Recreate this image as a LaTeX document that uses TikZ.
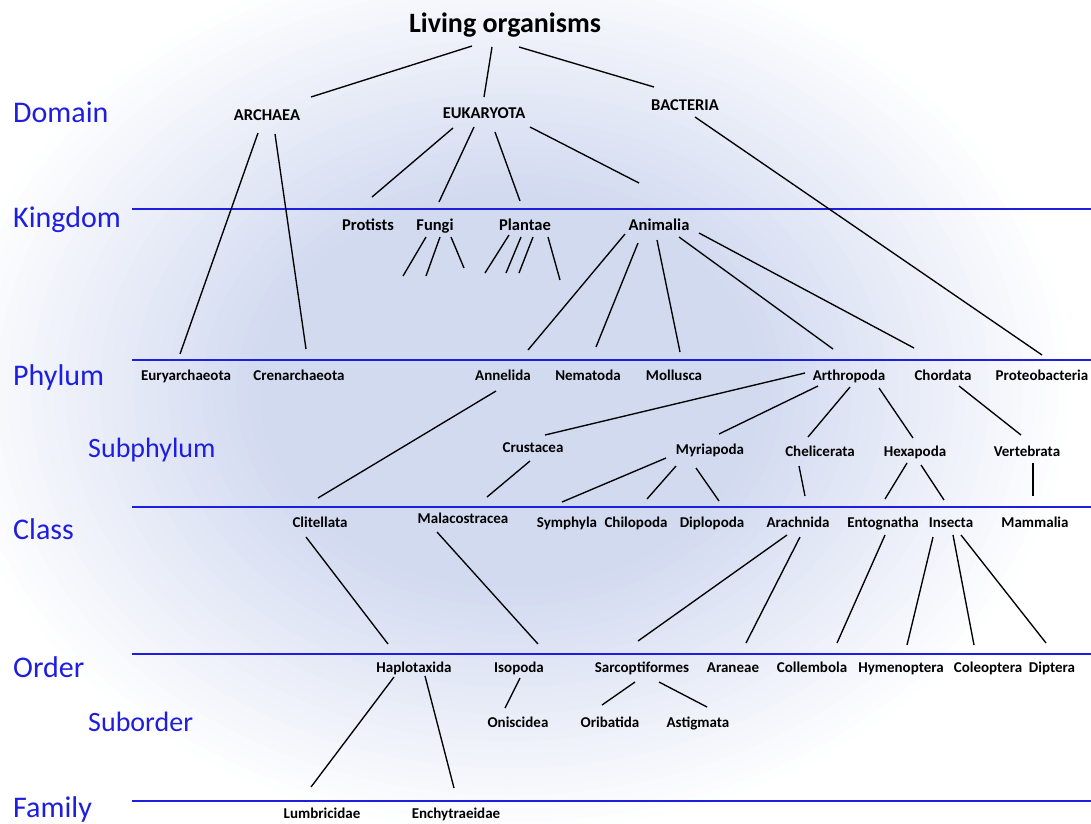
\documentclass[tikz,border=0pt]{standalone}
\usepackage{fontspec}
\setmainfont{Carlito}
\usetikzlibrary{calc}
\definecolor{rankblue}{RGB}{30,30,225}
\definecolor{bgc}{RGB}{210,218,240}
\tikzset{
  lbl/.style={font=\bfseries\fontsize{15}{18}\selectfont, inner sep=0pt, text height=9.7pt, text depth=0pt},
  lblb/.style={font=\bfseries\fontsize{16.5}{19}\selectfont, inner sep=0pt, text height=10.6pt, text depth=0pt},
  toplbl/.style={font=\bfseries\fontsize{28}{31}\selectfont, inner sep=0pt, text height=18pt, text depth=0pt},
  rank/.style={font=\fontsize{30}{34}\selectfont, text=rankblue, inner sep=0pt, anchor=west, text height=19.3pt, text depth=0pt},
  subrank/.style={font=\fontsize{28}{31}\selectfont, text=rankblue, inner sep=0pt, anchor=west, text height=18pt, text depth=0pt},
  conn/.style={draw=black, line width=1.35pt},
  rankline/.style={draw=rankblue, line width=2.2pt}
}
\newcommand\cn[4]{\draw[conn] ($(#1)+(#2)$) -- ($(#3)+(#4)$);}
\begin{document}
\begin{tikzpicture}[x=1pt,y=-1pt]
\useasboundingbox (0,0) rectangle (1091,823);
\fill[white] (0,0) rectangle (1091,823);
\begin{scope}
\clip (0,0) rectangle (1091,823);
\foreach \i in {0,...,50}{
  \pgfmathsetmacro\rr{1-\i/50}
  \pgfmathsetmacro\pp{min(100,3.6*\i)}
  \fill[bgc!\pp!white] (510,390) ellipse ({570*\rr} and {450*\rr});
}
\end{scope}

% rank lines
\draw[rankline] (132,209) -- (1091,209);
\draw[rankline] (132,360) -- (1091,360);
\draw[rankline] (132,507) -- (1091,507);
\draw[rankline] (132,654) -- (1091,654);
\draw[rankline] (132,801) -- (1091,801);

% rank labels
\node[rank] (rdomain) at (13,113) {Domain};
\node[rank] (rkingdom) at (13,218) {Kingdom};
\node[rank] (rphylum) at (13,376) {Phylum};
\node[subrank] (rsubphylum) at (88,448) {Subphylum};
\node[rank] (rclass) at (13,530) {Class};
\node[rank] (rorder) at (13,668) {Order};
\node[subrank] (rsuborder) at (88,722) {Suborder};
\node[rank] (rfamily) at (13,808) {Family};

% taxa
\node[toplbl] (living) at (505,23) {Living organisms};
\node[lblb] (archaea) at (267,115) {ARCHAEA};
\node[lblb] (eukaryota) at (484,113) {EUKARYOTA};
\node[lblb] (bacteria) at (685,105) {BACTERIA};
\node[lblb] (protists) at (368,225) {Protists};
\node[lblb] (fungi) at (435,225) {Fungi};
\node[lblb] (plantae) at (525,225) {Plantae};
\node[lblb] (animalia) at (659,225) {Animalia};
\node[lbl] (eury) at (186,376) {Euryarchaeota};
\node[lbl] (cren) at (299,376) {Crenarchaeota};
\node[lbl] (annelida) at (503,376) {Annelida};
\node[lbl] (nematoda) at (588,376) {Nematoda};
\node[lbl] (mollusca) at (674,376) {Mollusca};
\node[lbl] (arthropoda) at (849,376) {Arthropoda};
\node[lbl] (chordata) at (943,376) {Chordata};
\node[lbl] (proteo) at (1042,376) {Proteobacteria};
\node[lbl] (crustacea) at (533,448) {Crustacea};
\node[lbl] (myriapoda) at (710,450) {Myriapoda};
\node[lbl] (chelicerata) at (820,452) {Chelicerata};
\node[lbl] (hexapoda) at (915,452) {Hexapoda};
\node[lbl] (vertebrata) at (1027,452) {Vertebrata};
\node[lbl] (clitellata) at (320,523) {Clitellata};
\node[lbl] (malaco) at (463,519) {Malacostracea};
\node[lbl] (symphyla) at (567,523) {Symphyla};
\node[lbl] (chilopoda) at (636,523) {Chilopoda};
\node[lbl] (diplopoda) at (712,523) {Diplopoda};
\node[lbl] (arachnida) at (798,523) {Arachnida};
\node[lbl] (entognatha) at (883,523) {Entognatha};
\node[lbl] (insecta) at (951,523) {Insecta};
\node[lbl] (mammalia) at (1035,523) {Mammalia};
\node[lbl] (haplo) at (414,668) {Haplotaxida};
\node[lbl] (isopoda) at (519,668) {Isopoda};
\node[lbl] (sarco) at (642,668) {Sarcoptiformes};
\node[lbl] (araneae) at (733,668) {Araneae};
\node[lbl] (collembola) at (812,668) {Collembola};
\node[lbl] (hymeno) at (901,668) {Hymenoptera};
\node[lbl] (coleo) at (988,668) {Coleoptera};
\node[lbl] (diptera) at (1052,668) {Diptera};
\node[lbl] (onisc) at (518,723) {Oniscidea};
\node[lbl] (oriba) at (610,723) {Oribatida};
\node[lbl] (astig) at (698,723) {Astigmata};
\node[lbl] (lumbri) at (322,814) {Lumbricidae};
\node[lbl] (enchy) at (456,814) {Enchytraeidae};

% free ends under Fungi and Plantae
\coordinate (f1) at (403,276);
\coordinate (f2) at (426,276);
\coordinate (f3) at (464,268);
\coordinate (p1) at (485,273);
\coordinate (p2) at (506,273);
\coordinate (p3) at (519,273);
\coordinate (p4) at (560,280);

% connectors
\cn{living}{-33,23}{archaea}{44,-18}
\cn{living}{-13,24}{eukaryota}{0,-16}
\cn{living}{14,24}{bacteria}{-31,-18}
\cn{archaea}{-9,18}{eury}{-6,-22}
\cn{archaea}{8,19}{cren}{7,-27}
\cn{eukaryota}{-31,15}{protists}{4,-28}
\cn{eukaryota}{-10,14}{fungi}{4,-23}
\cn{eukaryota}{11,19}{plantae}{-5,-24}
\cn{eukaryota}{46,14}{animalia}{-20,-42}
\cn{bacteria}{10,12}{proteo}{0,-21}
\cn{fungi}{-9,12}{f1}{0,0}
\cn{fungi}{5,12}{f2}{0,0}
\cn{fungi}{16,12}{f3}{0,0}
\cn{plantae}{-16,10}{p1}{0,0}
\cn{plantae}{-4,12}{p2}{0,0}
\cn{plantae}{8,12}{p3}{0,0}
\cn{plantae}{23,12}{p4}{0,0}
\cn{animalia}{-34,9}{annelida}{25,-26}
\cn{animalia}{-21,18}{nematoda}{8,-29}
\cn{animalia}{-2,15}{mollusca}{6,-24}
\cn{animalia}{20,12}{arthropoda}{-16,-27}
\cn{animalia}{40,8}{chordata}{-29,-28}
\cn{arthropoda}{-44,-3}{crustacea}{12,-13}
\cn{arthropoda}{-31,10}{myriapoda}{9,-16}
\cn{arthropoda}{1,11}{chelicerata}{-12,-15}
\cn{arthropoda}{30,12}{hexapoda}{-2,-14}
\cn{chordata}{16,10}{vertebrata}{-6,-17}
\cn{annelida}{-7,15}{clitellata}{-2,-25}
\cn{crustacea}{-3,13}{malaco}{24,-22}
\cn{myriapoda}{-44,8}{symphyla}{-5,-21}
\cn{myriapoda}{-34,16}{chilopoda}{11,-24}
\cn{myriapoda}{-14,18}{diplopoda}{7,-22}
\cn{chelicerata}{-21,14}{arachnida}{7,-27}
\cn{hexapoda}{-8,11}{entognatha}{2,-24}
\cn{hexapoda}{6,13}{insecta}{-7,-23}
\cn{vertebrata}{6,11}{mammalia}{-2,-27}
\cn{clitellata}{-14,14}{haplo}{-26,-24}
\cn{malaco}{-26,13}{isopoda}{19,-24}
\cn{arachnida}{-11,12}{sarco}{-4,-27}
\cn{arachnida}{2,14}{araneae}{13,-25}
\cn{entognatha}{2,12}{collembola}{25,-25}
\cn{insecta}{-18,14}{hymeno}{6,-23}
\cn{insecta}{2,12}{coleo}{-14,-23}
\cn{insecta}{10,12}{diptera}{-6,-25}
\cn{isopoda}{1,10}{onisc}{-13,-15}
\cn{sarco}{-7,14}{oriba}{-8,-18}
\cn{sarco}{17,14}{astig}{9,-16}
\cn{haplo}{-20,9}{lumbri}{-11,-27}
\cn{haplo}{11,8}{enchy}{-2,-26}
\end{tikzpicture}
\end{document}
